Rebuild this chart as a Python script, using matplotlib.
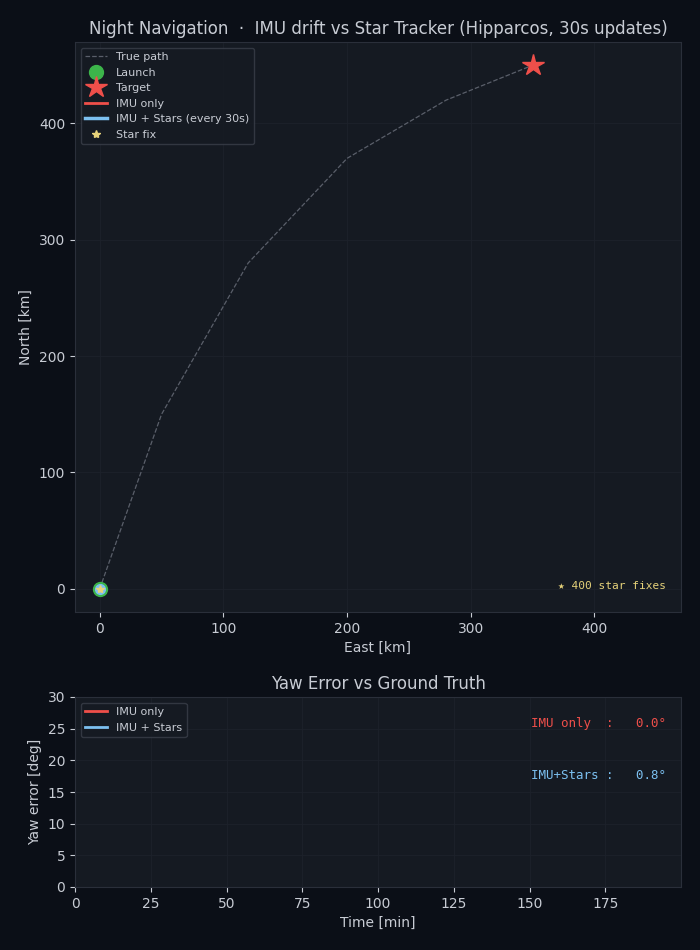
import matplotlib
matplotlib.use("Agg")
import matplotlib.pyplot as plt
import numpy as np

path_e = [0, 50, 120, 200, 280, 350]
path_n = [0, 150, 280, 370, 420, 450]
launch = (0, 0)
target = (350, 450)
imu_e = [0, 0]; imu_n = [0, 0]
fix_e = [0]; fix_n = [0]
n_fixes = 400
t_min = [0, 0]
yaw_imu = [0, 0]; yaw_star = [0, 0]

BG = "#0b0f17"; AX = "#151a22"; TXT = "#c8ccd4"; GRID = "#1d222b"
plt.rcParams.update({"text.color": TXT, "axes.labelcolor": TXT, "xtick.color": TXT,
                     "ytick.color": TXT, "axes.edgecolor": "#2a2f3a"})
fig = plt.figure(figsize=(7, 9.5), dpi=100, facecolor=BG)
ax = fig.add_axes([75/700, 1-612/950, 606/700, 570/950], facecolor=AX)
ax2 = fig.add_axes([75/700, 1-887/950, 606/700, 190/950], facecolor=AX)

ax.plot(path_e, path_n, ls="--", color="#5a5f6a", lw=0.9, label="True path")
ax.plot(*launch, "o", color="#3cb54a", ms=10, label="Launch", ls="none")
ax.plot(*target, "*", color="#ef4f4a", ms=16, label="Target", ls="none")
ax.plot(imu_e, imu_n, color="#ef4f4a", lw=2, label="IMU only")
ax.plot(imu_e, imu_n, color="#7cc0f0", lw=2.5, label="IMU + Stars (every 30s)")
ax.plot([launch[0]], [launch[1]], "o", color="#7cc0f0", ms=7, ls="none")
ax.plot(fix_e, fix_n, "*", color="#e6d27a", ms=6, label="Star fix", ls="none")
ax.set_xlim(-20, 470); ax.set_ylim(-20, 470)
ax.set_xticks([0, 100, 200, 300, 400]); ax.set_yticks([0, 100, 200, 300, 400])
ax.grid(color=GRID, lw=0.6)
ax.set_xlabel("East [km]"); ax.set_ylabel("North [km]")
ax.set_title("Night Navigation  ·  IMU drift vs Star Tracker (Hipparcos, 30s updates)",
             color=TXT, fontsize=12)
ax.text(0.975, 0.04, f"★ {n_fixes} star fixes", transform=ax.transAxes, ha="right",
        family="monospace", fontsize=8, color="#e6d27a")
leg = ax.legend(loc="upper left", fontsize=8, facecolor=AX, edgecolor="#3a3f4a", labelcolor=TXT)

ax2.plot(t_min, yaw_imu, color="#ef4f4a", lw=2, label="IMU only")
ax2.plot(t_min, yaw_star, color="#7cc0f0", lw=2, label="IMU + Stars")
ax2.set_xlim(0, 200); ax2.set_ylim(0, 30)
ax2.set_xticks(range(0, 200, 25)); ax2.set_yticks(range(0, 31, 5))
ax2.grid(color=GRID, lw=0.6)
ax2.set_xlabel("Time [min]"); ax2.set_ylabel("Yaw error [deg]")
ax2.set_title("Yaw Error vs Ground Truth", color=TXT, fontsize=12)
ax2.text(0.975, 0.84, "IMU only  :   0.0°", transform=ax2.transAxes, ha="right",
         family="monospace", fontsize=9, color="#ef4f4a")
ax2.text(0.975, 0.57, "IMU+Stars :   0.8°", transform=ax2.transAxes, ha="right",
         family="monospace", fontsize=9, color="#7cc0f0")
ax2.legend(loc="upper left", fontsize=8, facecolor=AX, edgecolor="#3a3f4a", labelcolor=TXT)
fig.savefig("out.png", facecolor=BG)
